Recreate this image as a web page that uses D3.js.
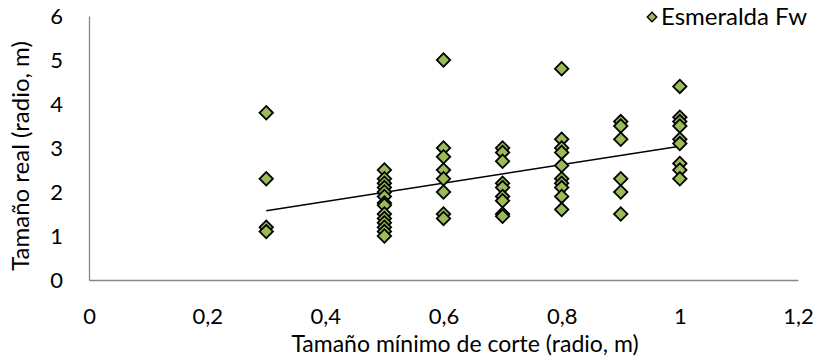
<!DOCTYPE html>
<html><head><meta charset="utf-8">
<script src="https://cdn.jsdelivr.net/npm/d3@7"></script>
<style>body{margin:0;background:#fff}svg{display:block}text{font-family:Lato,sans-serif;fill:#000}</style>
</head><body><svg id="c" width="819" height="358"></svg>
<script>
const xTicks = [0, 0.2, 0.4, 0.6, 0.8, 1, 1.2];
const yTicks = [0, 1, 2, 3, 4, 5, 6];
const seriesName = "Esmeralda Fw";
const xValues = [
  0.3,0.3,0.3,0.3,
  0.5,0.5,0.5,0.5,0.5,0.5,0.5,0.5,0.5,0.5,0.5,0.5,0.5,0.5,
  0.6,0.6,0.6,0.6,0.6,0.6,0.6,0.6,
  0.7,0.7,0.7,0.7,0.7,0.7,0.7,0.7,0.7,
  0.8,0.8,0.8,0.8,0.8,0.8,0.8,0.8,0.8,0.8,
  0.9,0.9,0.9,0.9,0.9,0.9,
  1,1,1,1,1,1,1,1,1
];
const yValues = [
  3.8,2.3,1.2,1.1,
  2.5,2.3,2.2,2.1,2.0,1.9,1.75,1.7,1.5,1.4,1.3,1.2,1.1,1.0,
  5.0,3.0,2.8,2.5,2.3,2.0,1.5,1.4,
  3.0,2.9,2.7,2.2,2.1,1.9,1.8,1.5,1.45,
  4.8,3.2,3.0,2.9,2.6,2.3,2.2,2.1,1.9,1.6,
  3.6,3.5,3.2,2.3,2.0,1.5,
  4.4,3.7,3.6,3.5,3.2,3.1,2.65,2.5,2.3
];
const fmt = d => String(d).replace(".", ",");

const svg = d3.select("#c");
const x = d3.scaleLinear().domain([0, 1.2]).range([89, 798]);
const y = d3.scaleLinear().domain([0, 6]).range([280, 16]);

const xAxis = d3.axisBottom(x).tickValues(xTicks).tickFormat(fmt).tickSize(0).tickPadding(28);
const gx = svg.append("g").attr("transform", `translate(0,${y(0)})`).call(xAxis);
gx.select(".domain").attr("stroke", "#868686").attr("stroke-width", 1.3);
gx.selectAll("text").attr("font-size", 22).attr("font-family", "Lato").attr("fill", "#000");

const yAxis = d3.axisLeft(y).tickValues(yTicks).tickFormat(fmt).tickSize(0).tickPadding(26);
const gy = svg.append("g").attr("transform", `translate(${x(0)},0)`).call(yAxis);
gy.select(".domain").attr("stroke", "#868686").attr("stroke-width", 1.3);
gy.selectAll("text").attr("font-size", 22).attr("font-family", "Lato").attr("fill", "#000");

// trendline (least squares)
const n = xValues.length;
const mx = d3.mean(xValues), my = d3.mean(yValues);
let sxy = 0, sxx = 0;
for (let i = 0; i < n; i++) { sxy += (xValues[i]-mx)*(yValues[i]-my); sxx += (xValues[i]-mx)**2; }
const slope = sxy / sxx, icpt = my - slope * mx;
const [x0, x1] = d3.extent(xValues);
svg.append("line")
  .attr("x1", x(x0)).attr("y1", y(icpt + slope * x0))
  .attr("x2", x(x1)).attr("y2", y(icpt + slope * x1))
  .attr("stroke", "#000").attr("stroke-width", 1.5);

const diamond = d3.symbol().type(d3.symbolSquare).size(90);
svg.append("g").selectAll("path").data(xValues.map((v, i) => [v, yValues[i]])).join("path")
  .attr("d", diamond)
  .attr("transform", d => `translate(${x(d[0])},${y(d[1])}) rotate(45)`)
  .attr("fill", "#9BBB59").attr("stroke", "#000").attr("stroke-width", 1.8);

// legend
svg.append("path").attr("d", d3.symbol().type(d3.symbolSquare).size(45)())
  .attr("transform", "translate(652,17) rotate(45)")
  .attr("fill", "#9BBB59").attr("stroke", "#000").attr("stroke-width", 1.4);
svg.append("text").attr("x", 661).attr("y", 25).attr("font-size", 24).text(seriesName);

// axis titles
svg.append("text").attr("x", 465).attr("y", 352).attr("text-anchor", "middle").attr("font-size", 23)
  .text("Tamaño mínimo de corte (radio, m)");
svg.append("text").attr("transform", "translate(29,156) rotate(-90)").attr("text-anchor", "middle").attr("font-size", 24)
  .text("Tamaño real (radio, m)");
</script></body></html>
